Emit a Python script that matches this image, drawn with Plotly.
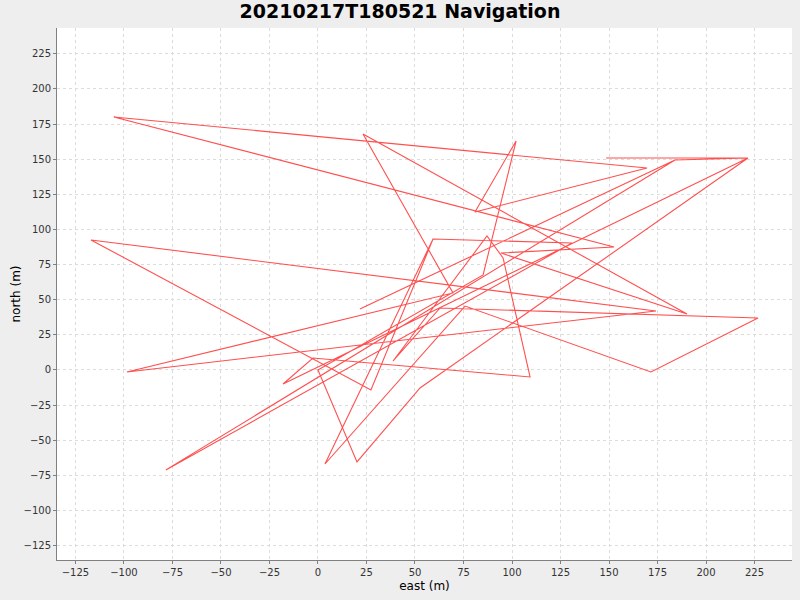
import plotly.graph_objects as go

# Navigation track (metres east / north)
east = [148.5, 221.6, 184.0, 21.6, 184.0, -78.4, 130.9, 59.3, 27.3, -117.0,
        174.2, -98.5, 69.6, 23.2, 190.2, 94.3, 152.6, -105.2, 169.6, 80.9,
        102.1, 85.1, 0.0, 20.1, 52.6, 221.6, -18.0, -2.6, 109.3, 95.4,
        87.1, 38.7, 62.9, 226.8, 171.6, 75.8, 3.6, 59.3]
north = [150.8, 150.8, 149.4, 43.4, 149.4, -71.1, 90.3, 93.2, -14.2, 92.5,
         42.0, -1.4, 54.8, 167.9, 39.8, 83.2, 87.5, 180.0, 143.7, 112.4,
         162.9, 67.6, 0.0, -65.4, -12.8, 150.8, -10.0, 8.5, -5.0, 79.7,
         95.3, 6.4, 44.1, 37.0, -1.4, 45.5, -66.9, 93.2]

x_ticks = list(range(-125, 226, 25))
y_ticks = list(range(-125, 226, 25))

fig = go.Figure(go.Scatter(
    x=east, y=north, mode='lines',
    line=dict(color='rgba(255,60,60,0.9)', width=1.1),
    hoverinfo='skip', showlegend=False,
))

grid = dict(showgrid=True, gridcolor='#dcdcdc', griddash='3px,3px', gridwidth=1,
            zeroline=False, showline=True, linecolor='#808080', linewidth=1,
            ticks='outside', ticklen=3, tickcolor='#808080', automargin=False,
            tickfont=dict(size=10, color='#333333'))

fig.update_layout(
    title=dict(text='<b>20210217T180521 Navigation</b>', x=0.5, xanchor='center',
               y=0.993, yanchor='top', font=dict(size=19, color='black')),
    font=dict(family='DejaVu Sans'),
    width=800, height=600,
    paper_bgcolor='#eeeeee', plot_bgcolor='white',
    margin=dict(l=57, r=8, t=28, b=40),
    xaxis=dict(range=[-134.5, 244.3], tickvals=x_ticks,
               title=dict(text='east (m)', font=dict(size=12, color='black'), standoff=4),
               **grid),
    yaxis=dict(range=[-135.2, 243.3], tickvals=y_ticks,
               title=dict(text='north (m)', font=dict(size=12, color='black'), standoff=0),
               **grid),
)

# drop the browser's default body margin so the figure sits at the page corner
fig.write_html('out.html', config={'displayModeBar': False},
               post_script="document.body.style.margin='0';")
